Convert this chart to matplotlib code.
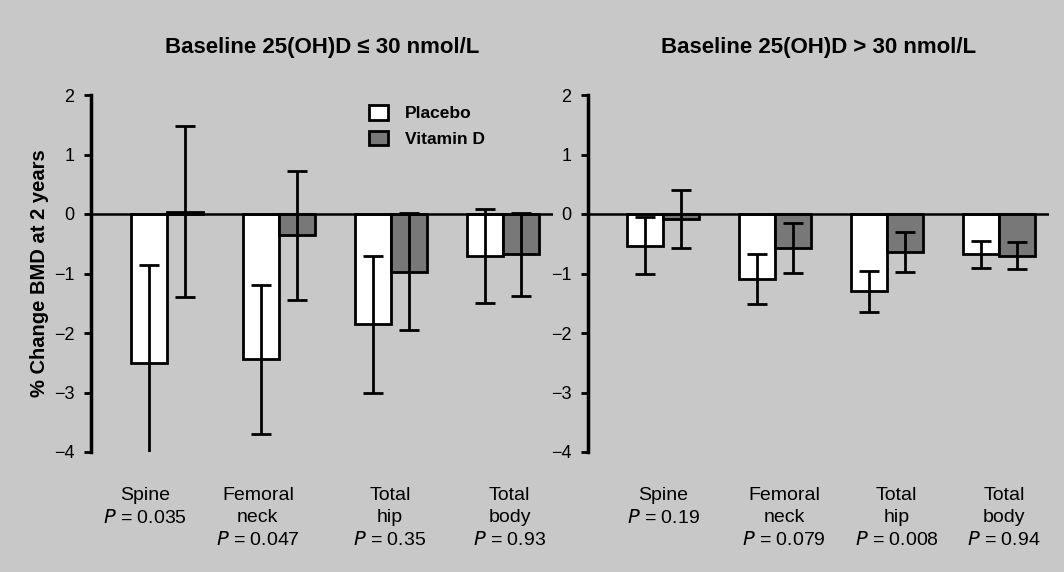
import matplotlib
matplotlib.use("Agg")
import matplotlib.pyplot as plt
import numpy as np
from matplotlib.patches import Patch

plt.rcParams["font.family"] = ["Liberation Sans", "DejaVu Sans"]

sites = ["Spine", "Femoral\nneck", "Total\nhip", "Total\nbody"]

low_placebo = [-2.50, -2.44, -1.85, -0.71]
low_placebo_err = [1.64, 1.25, 1.15, 0.79]
low_vitd = [0.04, -0.36, -0.97, -0.68]
low_vitd_err = [1.44, 1.09, 0.98, 0.70]
low_p = ["0.035", "0.047", "0.35", "0.93"]

high_placebo = [-0.53, -1.09, -1.30, -0.68]
high_placebo_err = [0.48, 0.42, 0.34, 0.23]
high_vitd = [-0.08, -0.57, -0.64, -0.70]
high_vitd_err = [0.49, 0.42, 0.34, 0.23]
high_p = ["0.19", "0.079", "0.008", "0.94"]

# small shifts of category labels relative to bar groups, as in the original
low_label_shift = [-0.2, -0.19, -0.01, 0.06]
high_label_shift = [0.0, 0.08, 0.085, 0.045]

BG = "#c8c8c8"
GREY = "#787878"
W = 0.32


def panel(ax, placebo, placebo_err, vitd, vitd_err, pvals, shift, title, xlim):
    x = np.arange(len(sites))
    kw = dict(width=W, edgecolor="black", linewidth=2, zorder=2)
    ekw = dict(fmt="none", ecolor="black", elinewidth=2, capsize=7, capthick=2, zorder=3)
    ax.bar(x - W / 2, placebo, color="white", **kw)
    ax.errorbar(x - W / 2, placebo, yerr=placebo_err, **ekw)
    ax.bar(x + W / 2, vitd, color=GREY, **kw)
    ax.errorbar(x + W / 2, vitd, yerr=vitd_err, **ekw)
    ax.axhline(0, color="black", linewidth=1.8, zorder=4)

    ax.set_xlim(*xlim)
    ax.set_ylim(-4, 2)
    ax.set_yticks(range(-4, 3))
    ax.set_yticklabels([str(v).replace("-", "\u2212") for v in range(-4, 3)], fontsize=13)
    ax.tick_params(axis="y", length=5, width=2, pad=7)
    labels = [f"{s}\n$\\it{{P}}$ = {p}" for s, p in zip(sites, pvals)]
    ax.set_xticks(x + np.array(shift))
    ax.set_xticklabels(labels, fontsize=14, linespacing=1.38)
    ax.tick_params(axis="x", length=0, pad=25)
    for sp in ["top", "right", "bottom"]:
        ax.spines[sp].set_visible(False)
    ax.spines["left"].set_linewidth(2.5)
    ax.set_facecolor(BG)
    ax.set_title(title, fontsize=16, fontweight="bold", pad=30)


fig = plt.figure(figsize=(10.64, 5.72), dpi=100)
fig.patch.set_facecolor(BG)

ax1 = fig.add_axes([91 / 1064, 1 - 452 / 572, 462 / 1064, 357 / 572])
ax2 = fig.add_axes([588 / 1064, 1 - 452 / 572, 461 / 1064, 357 / 572])

panel(ax1, low_placebo, low_placebo_err, low_vitd, low_vitd_err, low_p,
      low_label_shift, "Baseline 25(OH)D \u2264 30 nmol/L", (-0.68, 3.446))
panel(ax2, high_placebo, high_placebo_err, high_vitd, high_vitd_err, high_p,
      high_label_shift, "Baseline 25(OH)D > 30 nmol/L", (-0.67, 3.446))

ax1.set_ylabel("% Change BMD at 2 years", fontsize=14.5, fontweight="bold", labelpad=3.5)

handles = [Patch(facecolor="white", edgecolor="black", linewidth=2, label="Placebo"),
           Patch(facecolor=GREY, edgecolor="black", linewidth=2, label="Vitamin D")]
ax1.legend(handles=handles, loc="upper left", bbox_to_anchor=(0.567, 1.015),
           frameon=False, prop={"weight": "bold", "size": 12.5},
           handlelength=1.1, handleheight=0.9, handletextpad=1.0, labelspacing=0.55)

fig.savefig("out.png", dpi=100, facecolor=fig.get_facecolor())
